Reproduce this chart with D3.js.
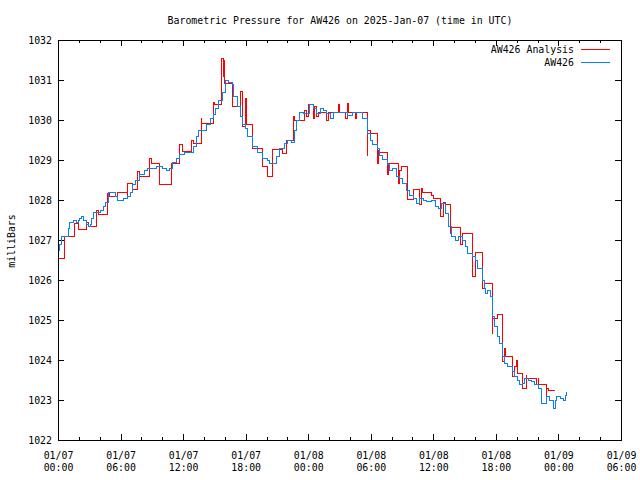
<!DOCTYPE html>
<html>
<head>
<meta charset="utf-8">
<script src="https://cdn.jsdelivr.net/npm/d3@7"></script>
<style>
  html, body { margin: 0; padding: 0; background: #fff; }
  svg { display: block; }
  text { font-family: "DejaVu Sans Mono", "Liberation Mono", monospace; font-size: 9.9px; fill: #000; }
</style>
</head>
<body>
<svg id="chart" width="640" height="480"></svg>
<script>
// ---------------- DATA ----------------
const title = "Barometric Pressure for AW426 on 2025-Jan-07 (time in UTC)";
const yLabel = "milliBars";
const seriesNames = ["AW426 Analysis", "AW426"];
const startUTC = Date.UTC(2025, 0, 7, 0, 0);   // 2025-01-07 00:00 UTC
const endUTC = Date.UTC(2025, 0, 9, 6, 0);     // 2025-01-09 06:00 UTC
const yTicks = [1022, 1023, 1024, 1025, 1026, 1027, 1028, 1029, 1030, 1031, 1032];

// AW426 Analysis: [hours since start, mbar] (step series)
const analysis = [
  [0,1026.55],[0.67,1027.1],[1.63,1027.42],[2.01,1027.26],[2.78,1027.45],[2.9,1027.33],
  [3.74,1027.75],[3.9,1027.64],[4.7,1028.17],[4.9,1028.08],[5.66,1028.18],[6.62,1028.1],
  [6.71,1028.42],[7.1,1028.27],[7.67,1028.71],[7.86,1028.58],[8.82,1029.04],[9.0,1028.92],
  [9.78,1028.38],[10.84,1028.92],[11.7,1029.38],[11.9,1029.21],[12.85,1029.48],[12.95,1029.42],
  [13.72,1030.04],[13.8,1029.92],[14.92,1030.45],[15.0,1030.4],[15.71,1031.54],[15.84,1031.1],
  [15.9,1031.5],[16.0,1030.92],[16.69,1030.33],[17.46,1030.71],[17.74,1029.85],[17.94,1030.54],
  [18.1,1029.9],[18.7,1029.29],[19.66,1028.83],[20.14,1028.58],[20.62,1029.27],[21.58,1029.17],
  [21.96,1029.5],[22.63,1030.08],[22.73,1029.98],[23.69,1030.25],[23.88,1030.1],[24.0,1030.38],
  [24.46,1030.05],[24.6,1030.35],[24.84,1030.1],[25.0,1030.2],[25.8,1030.0],[25.9,1030.2],
  [26.9,1030.4],[27.0,1030.2],[27.6,1030.05],[27.72,1030.42],[27.9,1030.2],[28.5,1030.05],
  [28.6,1030.2],[29.64,1029.12],[29.7,1029.75],[29.93,1029.67],[30.6,1028.92],[30.7,1029.25],
  [30.88,1029.2],[31.56,1028.63],[31.7,1028.92],[32.7,1028.42],[32.8,1028.75],[32.9,1028.83],
  [33.57,1028.02],[34.05,1028.27],[34.72,1027.9],[34.91,1028.29],[35.0,1028.19],[35.8,1028.12],
  [35.97,1028.04],[36.64,1027.58],[36.93,1027.95],[37.12,1027.9],[37.6,1027.17],[37.79,1027.32],
  [38.65,1026.88],[38.8,1027.17],[39.71,1026.08],[40.0,1026.68],[40.67,1025.79],[40.86,1025.92],
  [41.63,1024.67],[41.72,1025.04],[42.11,1025.14],[42.68,1023.96],[42.87,1024.3],[42.95,1024.08],
  [43.64,1023.58],[43.74,1023.83],[44.02,1024.0],[44.12,1023.67],[44.6,1023.29],[44.89,1023.62],
  [44.98,1023.54],[45.94,1023.38],[46.04,1023.54],[46.13,1023.39],[46.81,1022.96],[46.9,1023.3],
  [47.0,1023.23],[47.67,1023.23]
];

// AW426 station observations: [hours since start, mbar]
const station = [
  [0,1026.75],[0.19,1026.9],[0.38,1027.1],[0.77,1027.1],[0.96,1027.3],[1.15,1027.45],[1.44,1027.5],
  [1.73,1027.45],[1.92,1027.5],[2.11,1027.55],[2.3,1027.6],[2.49,1027.5],[2.69,1027.4],[2.88,1027.35],
  [3.07,1027.4],[3.26,1027.55],[3.45,1027.7],[3.74,1027.7],[4.03,1027.75],[4.41,1027.85],[4.6,1027.95],
  [4.8,1028.2],[5.18,1028.2],[5.47,1028.1],[5.66,1028.0],[6.14,1028.0],[6.33,1028.05],[6.62,1028.1],
  [6.91,1028.2],[7.19,1028.4],[7.48,1028.5],[7.86,1028.65],[8.25,1028.75],[8.63,1028.8],[9.11,1028.8],
  [9.4,1028.85],[9.78,1028.85],[10.07,1028.8],[10.36,1028.75],[10.74,1028.8],[11.03,1028.95],
  [11.32,1029.05],[11.7,1029.15],[12.18,1029.2],[12.66,1029.2],[12.95,1029.35],[13.24,1029.6],
  [13.52,1029.75],[13.91,1029.75],[14.2,1029.9],[14.58,1030.05],[14.87,1030.15],[15.15,1030.3],
  [15.44,1030.5],[15.73,1030.7],[16.02,1031.0],[16.31,1030.95],[16.69,1030.9],[16.79,1030.6],
  [17.17,1030.33],[17.46,1030.1],[17.65,1029.9],[17.94,1029.8],[18.22,1029.6],[18.61,1029.42],
  [18.7,1029.33],[19.09,1029.2],[19.37,1029.2],[19.66,1029.05],[20.05,1029.0],[20.33,1028.92],
  [20.62,1028.92],[21.0,1029.1],[21.29,1029.3],[21.77,1029.42],[22.06,1029.5],[22.44,1029.45],
  [22.73,1029.75],[22.92,1030.0],[23.21,1030.2],[23.5,1030.17],[23.88,1030.17],[24.17,1030.38],
  [24.46,1030.29],[24.84,1030.17],[25.13,1030.29],[25.42,1030.25],[25.8,1030.17],[26.09,1030.04],
  [26.38,1030.2],[27.05,1030.2],[27.72,1030.12],[28.29,1030.2],[28.97,1030.2],[29.25,1030.05],
  [29.64,1029.66],[29.93,1029.5],[30.21,1029.4],[30.6,1029.28],[30.88,1029.12],[31.17,1029.02],
  [31.56,1028.88],[31.84,1028.75],[32.13,1028.79],[32.51,1028.6],[32.8,1028.55],[33.09,1028.42],
  [33.47,1028.25],[33.76,1028.12],[34.05,1028.04],[34.43,1027.92],[34.72,1028.04],[35.01,1028.0],
  [35.39,1027.96],[35.87,1028.0],[36.16,1027.83],[36.45,1027.79],[36.83,1027.92],[37.12,1027.67],
  [37.41,1027.33],[37.79,1027.08],[38.08,1027.0],[38.37,1027.08],[38.75,1027.0],[39.04,1026.83],
  [39.32,1026.67],[39.71,1026.58],[40.0,1026.5],[40.28,1026.3],[40.67,1026.0],[40.86,1025.79],
  [40.96,1025.67],[41.15,1025.75],[41.44,1025.58],[41.63,1025.33],[41.72,1025.08],[41.91,1024.83],
  [42.11,1024.75],[42.2,1024.58],[42.39,1024.42],[42.59,1024.17],[42.68,1024.08],[42.87,1023.92],
  [43.16,1023.83],[43.55,1023.71],[43.83,1023.58],[44.12,1023.5],[44.31,1023.38],[44.6,1023.42],
  [44.79,1023.54],[45.08,1023.5],[45.46,1023.46],[45.75,1023.38],[46.04,1023.29],[46.42,1022.92],
  [46.71,1022.92],[46.9,1023.08],[47.19,1023.0],[47.48,1022.8],[47.67,1023.0],[47.86,1023.08],
  [48.15,1023.04],[48.44,1023.0],[48.63,1023.12],[48.82,1023.21]
];

const colors = ["#ff0000", "#0a80f5"];

// ---------------- CHART ----------------
const m = { left: 58, right: 621, top: 40, bottom: 440 };
const svg = d3.select("#chart");
const toDate = h => new Date(startUTC + h * 3600e3);

const x = d3.scaleUtc().domain([new Date(startUTC), new Date(endUTC)]).range([m.left, m.right]);
const y = d3.scaleLinear().domain([1022, 1032]).range([m.bottom, m.top]);

// clip
svg.append("defs").append("clipPath").attr("id", "clip")
  .append("rect").attr("x", m.left).attr("y", m.top)
  .attr("width", m.right - m.left).attr("height", m.bottom - m.top);

// title
svg.append("text").attr("x", 340).attr("y", 23.5).attr("text-anchor", "middle").text(title);

// y label
svg.append("text").attr("transform", "translate(14.5,241) rotate(-90)")
  .attr("text-anchor", "middle").text(yLabel);

function styleAxis(g) {
  g.select(".domain").remove();
  g.attr("font-family", null).attr("font-size", null);
  g.selectAll("line").attr("stroke", "#000").attr("shape-rendering", "crispEdges");
}

const major = d3.utcHour.every(6), minor = d3.utcHour.every(2);
const fmtDay = d3.utcFormat("%m/%d"), fmtTime = d3.utcFormat("%H:%M");

// minor x ticks (bottom & top)
svg.append("g").attr("transform", `translate(0,${m.bottom})`)
  .call(d3.axisBottom(x).ticks(minor).tickSize(-3).tickFormat("")).call(styleAxis);
svg.append("g").attr("transform", `translate(0,${m.top})`)
  .call(d3.axisTop(x).ticks(minor).tickSize(-3).tickFormat("")).call(styleAxis);

// major x ticks
const xb = svg.append("g").attr("transform", `translate(0,${m.bottom})`)
  .call(d3.axisBottom(x).ticks(major).tickSize(-6).tickFormat("")).call(styleAxis);
xb.selectAll(".tick").each(function(d) {
  const t = d3.select(this).append("text").attr("text-anchor", "middle");
  t.append("tspan").attr("x", 0).attr("y", 19).text(fmtDay(d));
  t.append("tspan").attr("x", 0).attr("y", 31).text(fmtTime(d));
});
svg.append("g").attr("transform", `translate(0,${m.top})`)
  .call(d3.axisTop(x).ticks(major).tickSize(-6).tickFormat("")).call(styleAxis);

// y ticks
svg.append("g").attr("transform", `translate(${m.left},0)`)
  .call(d3.axisLeft(y).tickValues(yTicks).tickSize(-6).tickPadding(12).tickFormat(d3.format("d")))
  .call(styleAxis)
  .selectAll("text").attr("x", -6).attr("dy", "0.35em");
svg.append("g").attr("transform", `translate(${m.right},0)`)
  .call(d3.axisRight(y).tickValues(yTicks).tickSize(-6).tickFormat("")).call(styleAxis);

// lines
const line = d3.line().curve(d3.curveStepAfter)
  .x(d => x(toDate(d[0]))).y(d => y(d[1]));
const plot = svg.append("g").attr("clip-path", "url(#clip)");
[analysis, station].forEach((data, i) => {
  plot.append("path").datum(data)
    .attr("fill", "none").attr("stroke", colors[i]).attr("stroke-width", 1)
    .attr("shape-rendering", "crispEdges")
    .attr("d", line);
});

// frame
svg.append("rect").attr("x", m.left + 0.5).attr("y", m.top + 0.5)
  .attr("width", m.right - m.left).attr("height", m.bottom - m.top)
  .attr("fill", "none").attr("stroke", "#000").attr("stroke-width", 1);

// legend
const legendY = [49.5, 62];
seriesNames.forEach((name, i) => {
  svg.append("text").attr("x", 574).attr("y", legendY[i] + 3.5)
    .attr("text-anchor", "end").text(name);
  svg.append("line").attr("x1", 581).attr("x2", 610)
    .attr("y1", legendY[i]).attr("y2", legendY[i])
    .attr("stroke", colors[i]).attr("stroke-width", 1).attr("shape-rendering", "crispEdges");
});
</script>
</body>
</html>
